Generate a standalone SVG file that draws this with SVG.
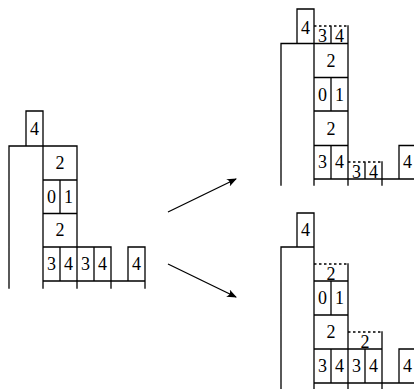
<svg xmlns="http://www.w3.org/2000/svg" width="414" height="389" viewBox="0 0 414 389">
<defs>
<style>
.l{stroke:#000;stroke-width:1.3;fill:none;stroke-linecap:square}
.d{stroke:#000;stroke-width:1.3;fill:none;stroke-dasharray:2.5 2.5}
.t{font-family:"Liberation Serif","DejaVu Serif",serif;font-size:18px;fill:#000;text-anchor:middle}
.a{stroke:#000;stroke-width:1.3;fill:none}
</style>
<marker id="ah" viewBox="0 0 10 8" refX="9" refY="4" markerWidth="10" markerHeight="8" markerUnits="userSpaceOnUse" orient="auto">
<path d="M0,0 Q4,4 0,8 L10,4 Z" fill="#000"/>
</marker>
</defs>
<rect width="414" height="389" fill="#fff"/>

<g id="left-figure">
<path class="l" d="M26,146 V111 H43 V146 M9,288 V146 H77 V288 M43,146 V288 M43,180 H77 M43,213.5 H77 M60,180 V213.5 M43,247 H111 V288 M60,247 V281 M94,247 V281 M128,281 V247 H145 V288 M43,281 H145"/>
<text class="t" x="34.5" y="135">4</text>
<text class="t" x="60" y="169">2</text>
<text class="t" x="51.5" y="203">0</text>
<text class="t" x="68.5" y="203">1</text>
<text class="t" x="60" y="236">2</text>
<text class="t" x="51.5" y="270">3</text>
<text class="t" x="68.5" y="270">4</text>
<text class="t" x="85.5" y="270">3</text>
<text class="t" x="102.5" y="270">4</text>
<text class="t" x="136.5" y="270">4</text>
</g>

<g id="top-right-figure">
<path class="l" d="M297,43.5 V9 H314 V185 M281,185 V43.5 H348 M348,26 V185 M331,27 V43.5 M314,77.5 H348 M314,111 H348 M331,77.5 V111 M314,145.5 H348 M331,145.5 V179 M314,179 H414 M365,163 V179 M382,162 V185 M399,179 V145.5 H416"/>
<path class="d" d="M314,26 H348 M348,162 H382"/>
<text class="t" x="305.5" y="34">4</text>
<text class="t" x="322.5" y="42">3</text>
<text class="t" x="339.5" y="42">4</text>
<text class="t" x="331" y="67">2</text>
<text class="t" x="322.5" y="101">0</text>
<text class="t" x="339.5" y="101">1</text>
<text class="t" x="331" y="135">2</text>
<text class="t" x="322.5" y="168">3</text>
<text class="t" x="339.5" y="168">4</text>
<text class="t" x="356.5" y="177.5">3</text>
<text class="t" x="373.5" y="177.5">4</text>
<text class="t" x="407.5" y="168">4</text>
</g>

<g id="bottom-right-figure">
<path class="l" d="M297,247 V213 H314 V389 M281,389 V247 H314 M348,264 V389 M314,281 H348 M331,281 V315 M314,315 H348 M314,349 H382 M331,349 V383 M365,349 V383 M382,332 V389 M314,383 H414 M399,383 V349 H416"/>
<path class="d" d="M314,264 H348 M348,332 H382"/>
<text class="t" x="305.5" y="236">4</text>
<text class="t" x="331" y="279.5">2</text>
<text class="t" x="322.5" y="304">0</text>
<text class="t" x="339.5" y="304">1</text>
<text class="t" x="331" y="338">2</text>
<text class="t" x="365" y="347.5">2</text>
<text class="t" x="322.5" y="372">3</text>
<text class="t" x="339.5" y="372">4</text>
<text class="t" x="356.5" y="372">3</text>
<text class="t" x="373.5" y="372">4</text>
<text class="t" x="407.5" y="372">4</text>
</g>

<g id="connectors">
<line class="a" x1="168" y1="212" x2="236" y2="179" marker-end="url(#ah)"/>
<line class="a" x1="168" y1="264" x2="236" y2="297" marker-end="url(#ah)"/>
</g>
</svg>
